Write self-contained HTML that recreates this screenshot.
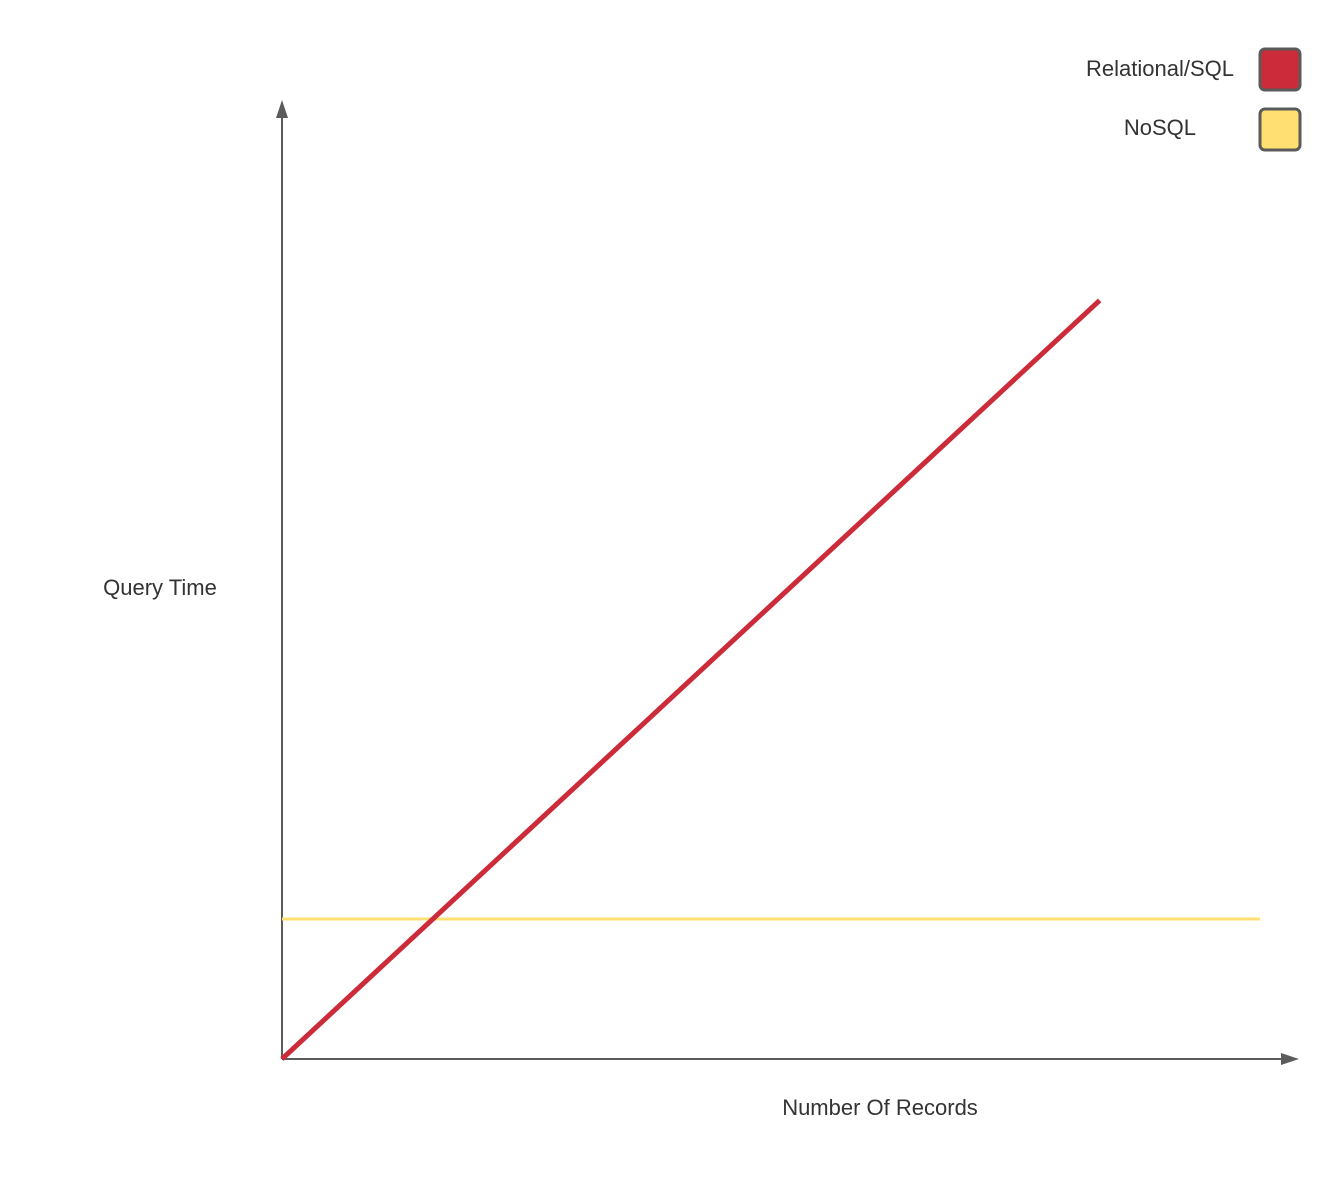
<!DOCTYPE html>
<html><head><meta charset="utf-8"><style>
html,body{margin:0;padding:0;background:#fff;}
svg{display:block;font-family:"Liberation Sans",sans-serif;}
</style></head><body>
<svg id="chart" width="1340" height="1180">
<g id="axes">
<line x1="282" y1="1059" x2="282" y2="114" stroke="#5b5b5b" stroke-width="2"/>
<polygon points="282,100 276,118 288,118" fill="#5b5b5b"/>
<line x1="282" y1="1059" x2="1284" y2="1059" stroke="#5b5b5b" stroke-width="2"/>
<polygon points="1299,1059 1281,1053 1281,1065" fill="#5b5b5b"/>
<text x="160" y="595" font-size="22" fill="#333" text-anchor="middle">Query Time</text>
<text x="880" y="1115" font-size="22" fill="#333" text-anchor="middle">Number Of Records</text>
</g>
<g id="series"></g>
<g id="legend">
<text x="1234" y="76" font-size="22" fill="#333" text-anchor="end">Relational/SQL</text>
<rect x="1260" y="49" width="40" height="41" rx="5" fill="#cc2b3a" stroke="#5a5a5a" stroke-width="3"/>
<text x="1196" y="135" font-size="22" fill="#333" text-anchor="end">NoSQL</text>
<rect x="1260" y="109" width="40" height="41" rx="5" fill="#ffdf72" stroke="#5a5a5a" stroke-width="3"/>
</g>
</svg>
<script>
const sqlX = [0, 83.6];
const sqlY = [0, 79.1];
const nosqlX = [0, 100];
const nosqlY = [14.6, 14.6];
function xs(v){return 282 + v/100*978;}
function ys(v){return 1059 - v/100*959;}
const g = document.getElementById('series');
const NS = 'http://www.w3.org/2000/svg';
function line(xa, ya, color, w, name){
  const p = document.createElementNS(NS,'polyline');
  p.setAttribute('points', xa.map((x,i)=>xs(x)+','+ys(ya[i])).join(' '));
  p.setAttribute('fill','none');
  p.setAttribute('stroke',color);
  p.setAttribute('stroke-width',w);
  
  
  g.appendChild(p);
}
line(nosqlX, nosqlY, '#ffdf72', 3, 'nosql-line');
line(sqlX, sqlY, '#cc2b3a', 5, 'sql-line');
</script>
</body></html>
